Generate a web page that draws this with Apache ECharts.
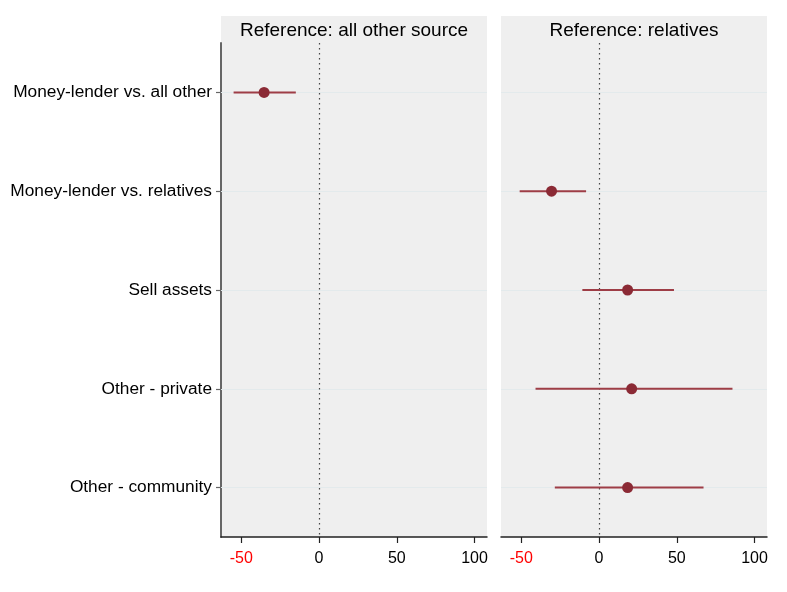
<!DOCTYPE html>
<html>
<head>
<meta charset="utf-8">
<script src="https://cdn.jsdelivr.net/npm/echarts@6/dist/echarts.min.js"></script>
<style>
  html, body { margin: 0; padding: 0; background: #fff; }
  #chart { width: 787px; height: 592px; }
</style>
</head>
<body>
<div id="chart"></div>
<script>
// Outcome rows, top to bottom
const categories = [
  'Money-lender vs. all other',
  'Money-lender vs. relatives',
  'Sell assets',
  'Other - private',
  'Other - community'
];

// Panel titles
const panelTitles = ['Reference: all other source', 'Reference: relatives'];

// Panel 1 (reference: all other source): point estimate and 95% CI
const est1   = [-35.3, null, null, null, null];
const lower1 = [-54.9, null, null, null, null];
const upper1 = [-14.9, null, null, null, null];

// Panel 2 (reference: relatives)
const est2   = [null, -30.5, 18.4, 21.0, 18.4];
const lower2 = [null, -51.0, -10.7, -40.8, -28.4];
const upper2 = [null, -8.3, 48.2, 85.8, 67.2];

// Axis range and tick labels
const xMin = -63;
const xMax = 108;
const xTicks = [-50, 0, 50, 100];

const FONT = '"Liberation Sans", Arial, Helvetica, sans-serif';
const BG = '#efefef';
const MARK = '#8b2a35';
const BAR = '#9e3d46';

const panels = [
  { left: 221, est: est1, lo: lower1, hi: upper1 },
  { left: 501, est: est2, lo: lower2, hi: upper2 }
];
const PANEL_W = 266;
const TOP = 43;
const HEIGHT = 494;
const HEADER_TOP = 16;

const chart = echarts.init(document.getElementById('chart'), null, { renderer: 'canvas' });

const grids = panels.map(p => ({
  left: p.left, top: TOP, width: PANEL_W, height: HEIGHT,
  show: true, backgroundColor: BG, borderWidth: 0
}));

const xAxes = panels.map((p, i) => ({
  type: 'value', gridIndex: i, min: xMin, max: xMax, position: 'bottom',
  splitLine: { show: false },
  axisLine: { show: true, onZero: false, lineStyle: { color: '#222', width: 1.5 } },
  axisTick: { show: true, length: 6, customValues: xTicks, lineStyle: { color: '#222', width: 1.2 } },
  axisLabel: {
    customValues: xTicks, margin: 14, fontSize: 16, fontFamily: FONT,
    color: v => (Number(v) < 0 ? '#ff0000' : '#000')
  }
}));

const yAxes = panels.map((p, i) => ({
  type: 'category', gridIndex: i, data: categories, inverse: true, position: 'left',
  splitLine: { show: false },
  axisLine: { show: i === 0, onZero: false, lineStyle: { color: '#666', width: 2 } },
  axisTick: { show: i === 0, alignWithLabel: true, length: 5, lineStyle: { color: '#666', width: 1.2 } },
  axisLabel: { show: i === 0, margin: 9, fontSize: 17.3, fontFamily: FONT, color: '#000' }
}));

const series = [];
panels.forEach((p, i) => {
  // Confidence interval whiskers: [lower, row, upper]
  series.push({
    type: 'custom', xAxisIndex: i, yAxisIndex: i,
    data: categories.map((c, k) => [p.lo[k], k, p.hi[k]]).filter(d => d[0] !== null),
    renderItem: (params, api) => {
      const a = api.coord([api.value(0), api.value(1)]);
      const b = api.coord([api.value(2), api.value(1)]);
      return {
        type: 'line',
        shape: { x1: a[0], y1: a[1], x2: b[0], y2: b[1] },
        style: { stroke: BAR, lineWidth: 2 }
      };
    },
    z: 3
  });
  // Point estimates, plus faint row guides and the dotted zero reference
  series.push({
    type: 'scatter', xAxisIndex: i, yAxisIndex: i,
    data: categories.map((c, k) => [p.est[k], k]).filter(d => d[0] !== null),
    symbol: 'circle', symbolSize: 11,
    itemStyle: { color: MARK, opacity: 1 },
    z: 4,
    markLine: {
      silent: true, symbol: 'none', label: { show: false }, z: 1,
      data: categories.map((c, k) => ({ yAxis: k, lineStyle: { color: '#e3eaec', width: 1, type: 'solid' } }))
        .concat([{ xAxis: 0, lineStyle: { color: '#444', width: 1.2, type: [1.5, 3.5] } }])
    }
  });
});

const graphics = [];
panels.forEach((p, i) => {
  graphics.push({
    type: 'rect', left: p.left, top: HEADER_TOP,
    shape: { width: PANEL_W, height: TOP - HEADER_TOP + 1 },
    style: { fill: BG }, silent: true, z: -1
  });
  graphics.push({
    type: 'text', x: p.left + PANEL_W / 2, y: 31,
    style: {
      text: panelTitles[i], fill: '#000', font: '19px ' + FONT,
      textAlign: 'center', textVerticalAlign: 'middle'
    }
  });
});

chart.setOption({
  backgroundColor: '#fff',
  animation: false,
  grid: grids,
  xAxis: xAxes,
  yAxis: yAxes,
  series: series,
  graphic: graphics
});
</script>
</body>
</html>
